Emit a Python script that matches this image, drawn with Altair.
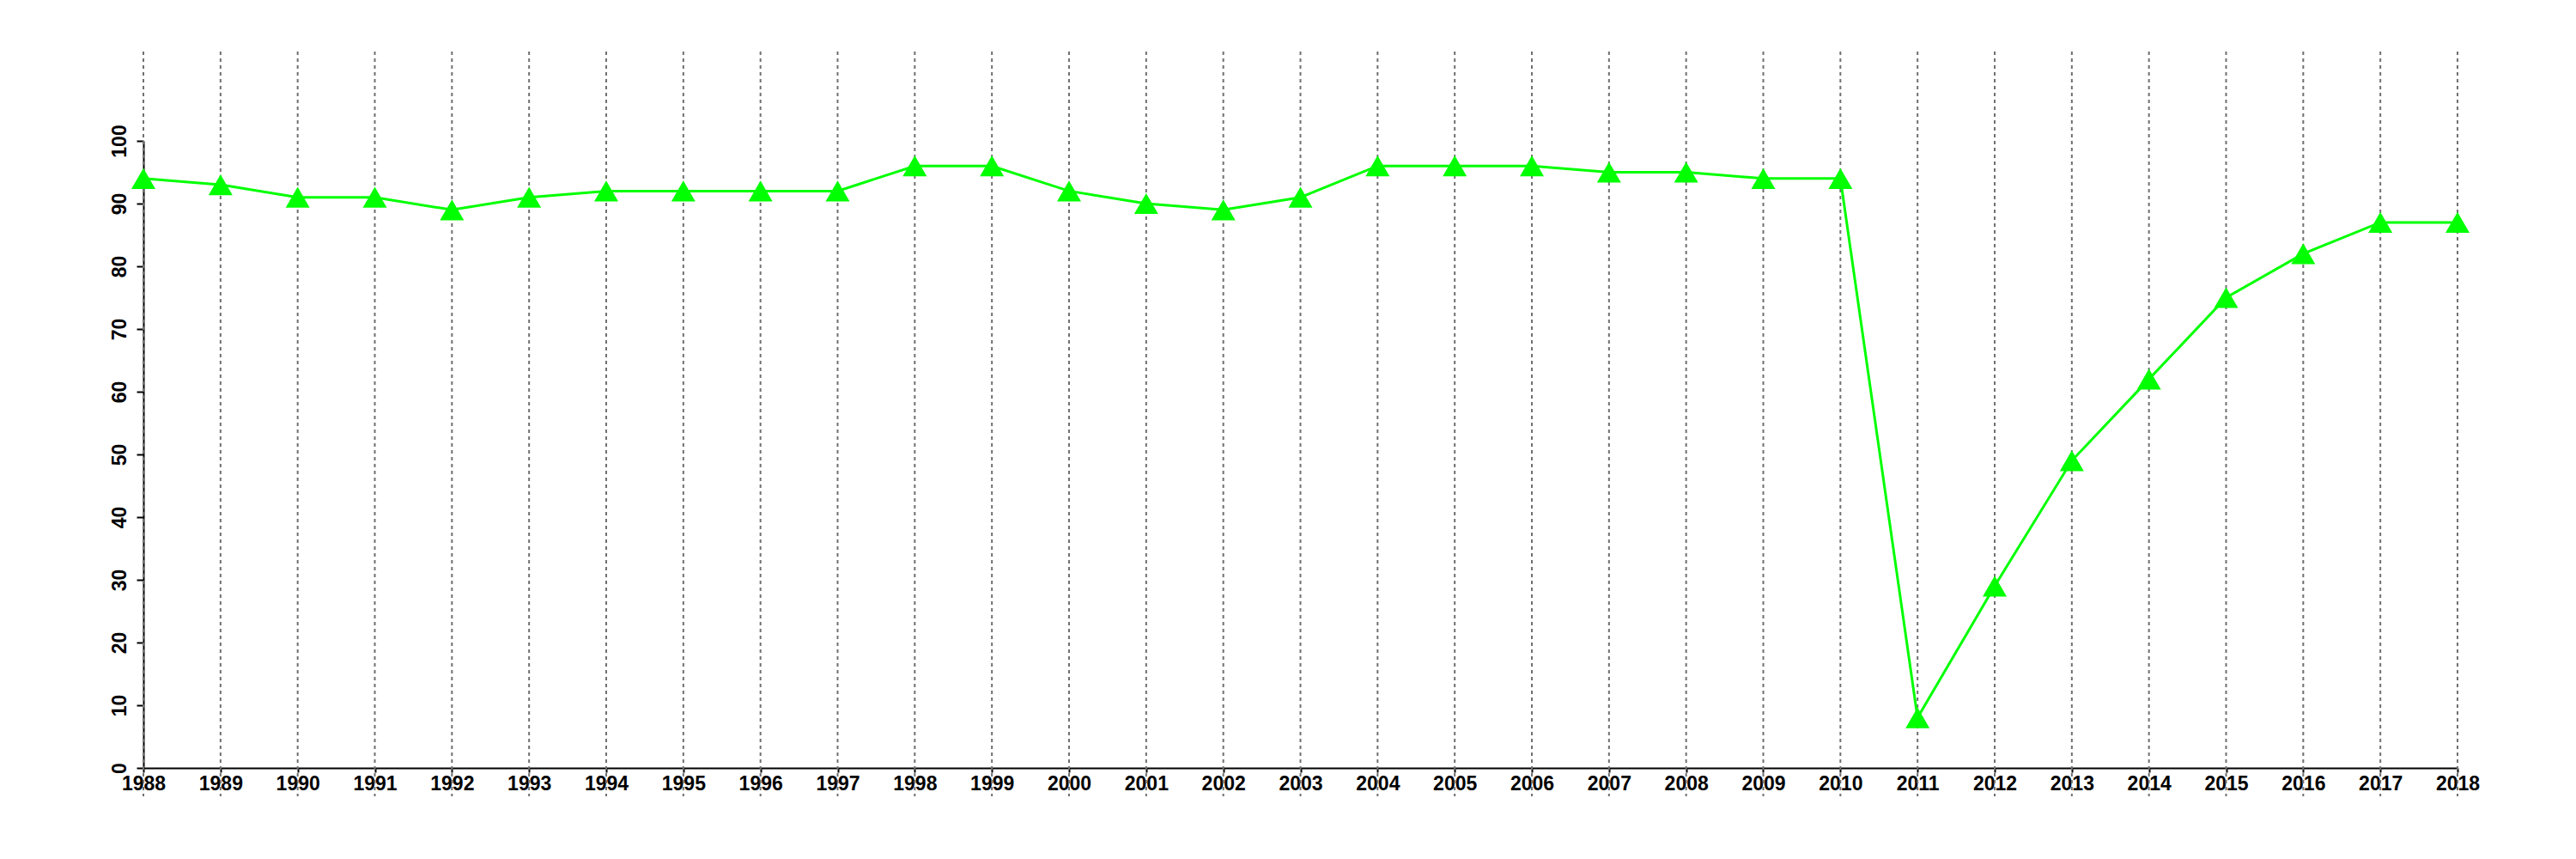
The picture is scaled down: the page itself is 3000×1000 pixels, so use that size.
import altair as alt
import pandas as pd

years = list(range(1988, 2019))
values = [94, 93, 91, 91, 89, 91, 92, 92, 92, 92, 96, 96, 92, 90, 89, 91,
          96, 96, 96, 95, 95, 94, 94, 8, 29, 49, 62, 75, 82, 87, 87]
y_ticks = list(range(0, 101, 10))

df = pd.DataFrame({"year": years, "value": values})

FONT = "Liberation Sans"

xscale = alt.Scale(domain=[1988, 2018], nice=False, zero=False)
xaxis = alt.Axis(values=years, format="d", title=None, grid=False,
                 labelFont=FONT, labelFontSize=23, labelFontWeight="bold",
                 labelColor="black", tickColor="black", domainColor="black",
                 domainWidth=2, tickWidth=2, tickSize=5, labelPadding=2,
                 labelFlush=False, labelOverlap=False)
yaxis = alt.Axis(values=y_ticks, title=None, grid=False,
                 labelFont=FONT, labelFontSize=23, labelFontWeight="bold",
                 labelColor="black", tickColor="black", domainColor="black",
                 domainWidth=2, tickWidth=2, tickSize=8, labelPadding=8,
                 labelAngle=270, labelAlign="center", labelBaseline="bottom",
                 labelFlush=False, labelOverlap=False)

base = alt.Chart(df)

grid = base.mark_rule(color="#707070", strokeWidth=2, strokeDash=[4, 4]).encode(
    x=alt.X("year:Q", scale=xscale, axis=xaxis),
    y=alt.value(-104),
    y2=alt.value(763),
)

line = base.mark_line(color="#00FF00", strokeWidth=3).encode(
    x=alt.X("year:Q", scale=xscale, axis=xaxis),
    y=alt.Y("value:Q", scale=alt.Scale(domain=[0, 100], nice=False), axis=yaxis),
)

points = base.mark_point(shape="triangle-up", filled=True, size=784,
                         color="#00FF00", opacity=1).encode(
    x=alt.X("year:Q", scale=xscale, axis=xaxis),
    y=alt.Y("value:Q", scale=alt.Scale(domain=[0, 100], nice=False), axis=yaxis),
)

chart = alt.layer(grid, line, points).properties(
    width=2695,
    height=730,
    autosize=alt.AutoSizeParams(type="none"),
    padding={"left": 159, "top": 156, "right": 100, "bottom": 100},
).configure_view(stroke=None)

chart.save("out.html", embed_options={"renderer": "svg", "actions": False})
